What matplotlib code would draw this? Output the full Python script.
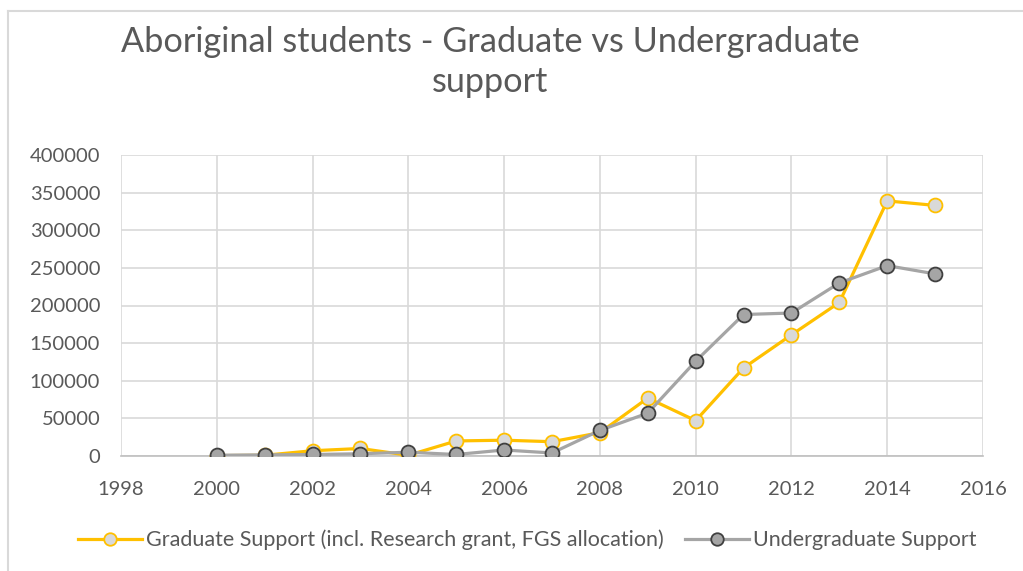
import matplotlib.pyplot as plt
from matplotlib.lines import Line2D

years = [2000, 2001, 2002, 2003, 2004, 2005, 2006, 2007,
         2008, 2009, 2010, 2011, 2012, 2013, 2014, 2015]
graduate = [500, 1000, 7000, 10000, 1000, 20000, 21000, 19000,
            31000, 77000, 47000, 117000, 161000, 204000, 339000, 333000]
undergrad = [1000, 1500, 2000, 3000, 5000, 2000, 8000, 4000,
             34000, 57000, 126000, 188000, 190000, 230000, 253000, 242000]
x_ticks = list(range(1998, 2017, 2))
y_ticks = list(range(0, 400001, 50000))

plt.rcParams['font.family'] = ['Lato', 'DejaVu Sans']
text_col = '#595959'
W, H = 1023, 571

fig = plt.figure(figsize=(10.23, 5.71), dpi=100)
ax = fig.add_axes([121 / W, 1 - 456 / H, (983 - 121) / W, (456 - 155) / H])

ax.plot(years, graduate, color='#ffc000', lw=2.3, marker='o', ms=10,
        mfc='#d9d9d9', mec='#ffc000', mew=1.3,
        label='Graduate Support (incl. Research grant, FGS allocation)', zorder=3)
ax.plot(years, undergrad, color='#a5a5a5', lw=2.3, marker='o', ms=10,
        mfc='#a5a5a5', mec='#404040', mew=1.3,
        label='Undergraduate Support', zorder=4)

ax.set_xlim(1998, 2016)
ax.set_ylim(0, 400000)
ax.set_xticks(x_ticks)
ax.set_yticks(y_ticks)
ax.grid(True, color='#d9d9d9', lw=1.2)
ax.set_axisbelow(True)
for s in ['top', 'right', 'left']:
    ax.spines[s].set_visible(False)
ax.spines['bottom'].set_color('#bfbfbf')
ax.spines['bottom'].set_linewidth(1.2)
ax.tick_params(length=0, labelsize=14.5, colors=text_col)
ax.tick_params(axis='y', pad=15)
ax.tick_params(axis='x', pad=18)

# title, two lines
fig.text(490 / W, 1 - 52 / H, 'Aboriginal students - Graduate vs Undergraduate',
         ha='center', va='baseline', fontsize=24.7, color=text_col)
fig.text(490 / W, 1 - 92 / H, 'support',
         ha='center', va='baseline', fontsize=24.7, color=text_col)

leg = fig.legend(loc='center', bbox_to_anchor=(527 / W, 1 - 540 / H), ncol=2, frameon=False,
                 fontsize=15.5, handlelength=3.0, columnspacing=1.0, handletextpad=0.15,
                 markerscale=0.9)
for t in leg.get_texts():
    t.set_color(text_col)

# chart area border (top and left only visible)
fig.add_artist(Line2D([8 / W, 1], [1 - 11 / H, 1 - 11 / H], transform=fig.transFigure,
                      color='#d9d9d9', lw=1.5))
fig.add_artist(Line2D([8 / W, 8 / W], [0, 1 - 11 / H], transform=fig.transFigure,
                      color='#d9d9d9', lw=1.5))

fig.savefig('out.png', dpi=100)
